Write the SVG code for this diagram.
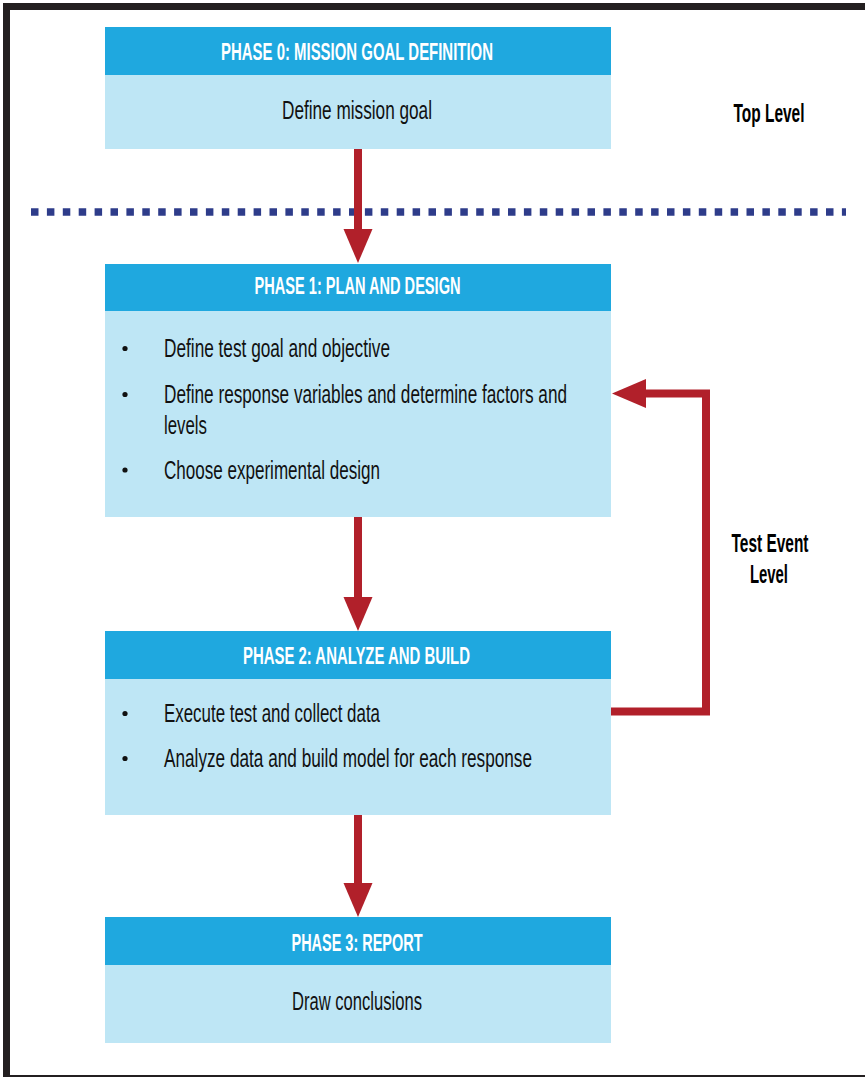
<svg xmlns="http://www.w3.org/2000/svg" width="865" height="1077" viewBox="0 0 865 1077">
<style>
.hdr{fill:#1FA8DF}
.body{fill:#BEE6F5}
.ht{font-family:"Liberation Sans",Arial,sans-serif;font-weight:bold;font-size:24px;fill:#FFFFFF;text-anchor:middle}
.bt{font-family:"Liberation Sans",Arial,sans-serif;font-size:26.5px;fill:#111111}
.btc{text-anchor:middle}
.lbl{font-family:"Liberation Sans",Arial,sans-serif;font-weight:bold;font-size:25px;fill:#000000;text-anchor:middle}
.bul{fill:#111111}
.arrow{fill:none;stroke:#B1202A;stroke-width:8;stroke-linejoin:miter}
</style>
<defs>
<marker id="ah" markerUnits="userSpaceOnUse" markerWidth="34" markerHeight="30" refX="0" refY="14.5" orient="auto" viewBox="0 0 34 29">
<path d="M0,0 L34,14.5 L0,29 Z" fill="#B1202A"/>
</marker>
</defs>
<rect x="0" y="0" width="865" height="1077" fill="#FFFFFF"/>
<rect x="6.5" y="6.5" width="880" height="1072" fill="none" stroke="#231F20" stroke-width="7"/>
<line x1="31" y1="212" x2="846" y2="212" stroke="#2E3C8A" stroke-width="7.5" stroke-dasharray="7.5 8.4"/>

<g id="phase0">
<rect class="hdr" x="105" y="27" width="506" height="48"/>
<rect class="body" x="105" y="75" width="506" height="74"/>
<text class="ht" x="357" y="60" textLength="272" lengthAdjust="spacingAndGlyphs">PHASE 0: MISSION GOAL DEFINITION</text>
<text class="bt btc" x="357" y="119" textLength="150" lengthAdjust="spacingAndGlyphs">Define mission goal</text>
</g>

<g id="phase1">
<rect class="hdr" x="105" y="264" width="506" height="47"/>
<rect class="body" x="105" y="311" width="506" height="206"/>
<text class="ht" x="357.5" y="293.5" textLength="206" lengthAdjust="spacingAndGlyphs">PHASE 1: PLAN AND DESIGN</text>
<circle class="bul" cx="125" cy="348.5" r="2.6"/>
<text class="bt" x="164" y="357" textLength="226" lengthAdjust="spacingAndGlyphs">Define test goal and objective</text>
<circle class="bul" cx="125" cy="394.5" r="2.6"/>
<text class="bt" x="164" y="403" textLength="403" lengthAdjust="spacingAndGlyphs">Define response variables and determine factors and</text>
<text class="bt" x="164" y="433.5" textLength="43" lengthAdjust="spacingAndGlyphs">levels</text>
<circle class="bul" cx="125" cy="470" r="2.6"/>
<text class="bt" x="164" y="478.5" textLength="216" lengthAdjust="spacingAndGlyphs">Choose experimental design</text>
</g>

<g id="phase2">
<rect class="hdr" x="105" y="631" width="506" height="48"/>
<rect class="body" x="105" y="679" width="506" height="136"/>
<text class="ht" x="356.5" y="664" textLength="227" lengthAdjust="spacingAndGlyphs">PHASE 2: ANALYZE AND BUILD</text>
<circle class="bul" cx="125" cy="713.5" r="2.6"/>
<text class="bt" x="164" y="722" textLength="216" lengthAdjust="spacingAndGlyphs">Execute test and collect data</text>
<circle class="bul" cx="125" cy="758.5" r="2.6"/>
<text class="bt" x="164" y="767" textLength="368" lengthAdjust="spacingAndGlyphs">Analyze data and build model for each response</text>
</g>

<g id="phase3">
<rect class="hdr" x="105" y="917" width="506" height="48"/>
<rect class="body" x="105" y="965" width="506" height="78"/>
<text class="ht" x="357" y="951" textLength="131" lengthAdjust="spacingAndGlyphs">PHASE 3: REPORT</text>
<text class="bt btc" x="357" y="1009.5" textLength="130" lengthAdjust="spacingAndGlyphs">Draw conclusions</text>
</g>

<g id="label-top">
<text class="lbl" x="769" y="121.5" textLength="71" lengthAdjust="spacingAndGlyphs">Top Level</text>
</g>
<g id="label-test-event">
<text class="lbl" x="770" y="552" textLength="77" lengthAdjust="spacingAndGlyphs">Test Event</text>
<text class="lbl" x="769" y="583" textLength="38" lengthAdjust="spacingAndGlyphs">Level</text>
</g>

<g id="connectors">
<line class="arrow" x1="358" y1="149" x2="358" y2="229" marker-end="url(#ah)"/>
<line class="arrow" x1="358" y1="517" x2="358" y2="597" marker-end="url(#ah)"/>
<line class="arrow" x1="358" y1="815" x2="358" y2="883" marker-end="url(#ah)"/>
<path class="arrow" d="M611,711.5 H706 V393.5 H646" marker-end="url(#ah)"/>
</g>
</svg>
